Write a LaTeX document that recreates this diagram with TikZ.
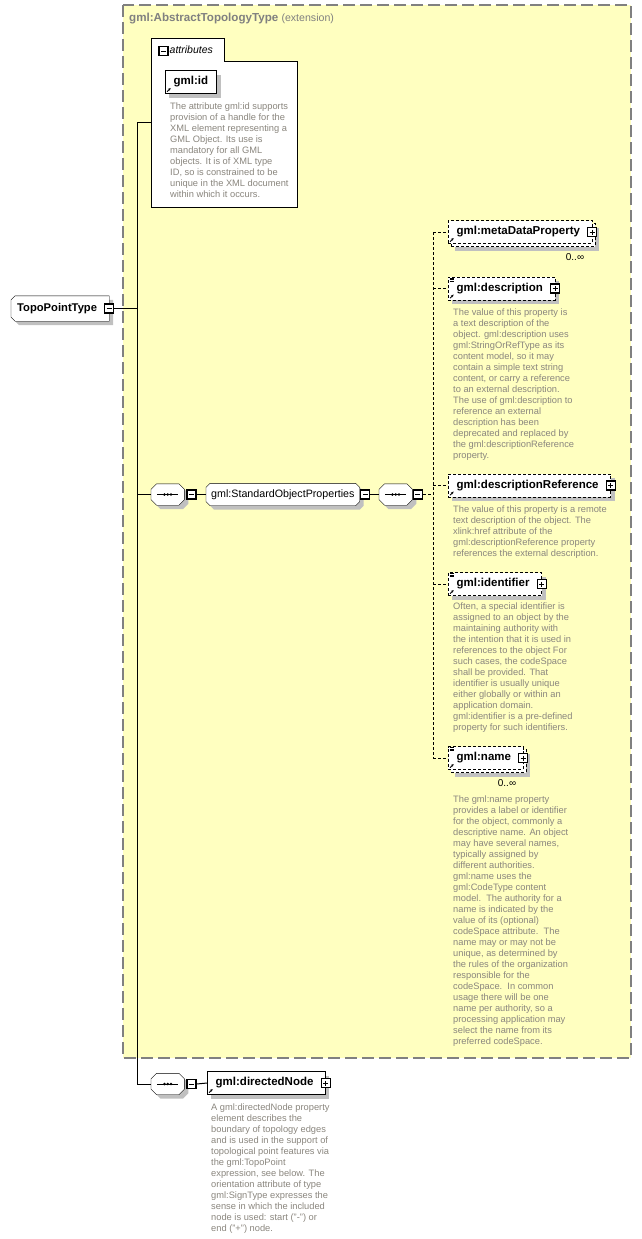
\documentclass[tikz,border=0pt]{standalone}
\usepackage{fontspec}
\setmainfont{Liberation Sans}
\usetikzlibrary{shadows,positioning,arrows.meta}

\definecolor{extfill}{RGB}{255,255,192}
\definecolor{extline}{RGB}{128,128,128}
\definecolor{descgray}{RGB}{138,134,126}
\definecolor{shadowgray}{RGB}{192,192,192}

\pgfdeclarelayer{frame}
\pgfdeclarelayer{outline}
\pgfsetlayers{frame,outline,main}

\tikzset{
  dropshade/.style={drop shadow={shadow xshift=4pt,shadow yshift=-4pt,fill=shadowgray,opacity=1}},
  elem/.style={draw,fill=white,minimum height=23pt,inner xsep=8.5pt,inner ysep=0pt,
    font=\fontsize{11.5}{13}\selectfont\bfseries},
  opt/.style={dash pattern=on 3pt off 2pt},
  plusroom/.style={execute at end node={\hspace*{3.5pt}}},
  pmbox/.style={draw,fill=white,minimum size=9pt,inner sep=0pt,line width=1.1pt},
  minus/.style={pmbox,path picture={
      \draw[line width=0.9pt] ([xshift=2pt]path picture bounding box.west) -- ([xshift=-2pt]path picture bounding box.east);}},
  plus/.style={pmbox,path picture={
      \draw[line width=0.9pt] ([xshift=2pt]path picture bounding box.west) -- ([xshift=-2pt]path picture bounding box.east);
      \draw[line width=0.9pt] ([yshift=-2pt]path picture bounding box.north) -- ([yshift=2pt]path picture bounding box.south);}},
  seq/.style={minimum width=33pt,minimum height=21pt,inner sep=0pt},
  group/.style={minimum height=22pt,inner xsep=5pt,inner ysep=0pt,font=\fontsize{10.7}{12}\selectfont},
  topo/.style={minimum height=25pt,inner xsep=6pt,inner ysep=0pt,font=\fontsize{11.2}{13}\selectfont\bfseries,
    execute at end node={\hspace*{6pt}}},
  desc/.style={anchor=north west,align=left,inner sep=0pt,text=descgray,
    font=\fontsize{9.3}{11}\selectfont},
  occurs/.style={font=\fontsize{10}{12}\selectfont,inner sep=0pt},
  conn/.style={line width=1pt},
  optconn/.style={line width=1pt,opt},
}

% outline with all four corners cut
\newcommand{\cutbox}[2]{%
  \begin{pgfonlayer}{outline}
  \draw[fill=white,dropshade] ([xshift=#2]#1.north west) -- ([xshift=-#2]#1.north east)
    -- ([yshift=-#2]#1.north east) -- ([yshift=#2]#1.south east)
    -- ([xshift=-#2]#1.south east) -- ([xshift=#2]#1.south west)
    -- ([yshift=#2]#1.south west) -- ([yshift=-#2]#1.north west) -- cycle;
  \end{pgfonlayer}}
% outline with the left corners cut
\newcommand{\leftcutbox}[2]{%
  \begin{pgfonlayer}{outline}
  \draw[fill=white,dropshade] ([xshift=#2]#1.north west) -- (#1.north east)
    -- (#1.south east) -- ([xshift=#2]#1.south west)
    -- ([yshift=#2]#1.south west) -- ([yshift=-#2]#1.north west) -- cycle;
  \end{pgfonlayer}}
% sequence sign
\newcommand{\seqsign}[1]{%
  \cutbox{#1}{5.5pt}
  \draw ([xshift=6pt]#1.west) -- ([xshift=-6pt]#1.east);
  \foreach \d in {-3.3,0,3.3} \fill ([xshift=\d pt]#1.center) circle (1.4pt);}
\newcommand{\refmark}[1]{%
  \draw[line width=0.8pt,-{Stealth[length=2.6pt,width=2.6pt]}] ([xshift=2pt,yshift=2pt]#1.south west) -- ++(3.6,-3.6);}
\newcommand{\simplemark}[1]{%
  \foreach \k in {1.2,2.7,4.2}
    \draw[line width=0.6pt] ([xshift=1.5pt,yshift=-\k pt]#1.north west) -- ++(4,0);}

\begin{document}
\begin{tikzpicture}[x=1pt,y=-1pt,line width=1pt]
\useasboundingbox (0,0) rectangle (641,1239);

% extension of gml:AbstractTopologyType
\begin{pgfonlayer}{frame}
\draw[extline,fill=extfill,line width=1.5pt,dash pattern=on 12pt off 5pt] (123,5) rectangle (631,1058);
\end{pgfonlayer}
\node[anchor=west,inner sep=0pt,text=extline,font=\fontsize{11.6}{13}\selectfont\bfseries] (exttitle) at (129,19)
  {gml:AbstractTopologyType {\mdseries\fontsize{10.6}{12}\selectfont(extension)}};

% attributes
\draw[fill=white] (151,38) -- (224,38) -- (224,61) -- (297,61) -- (297,207) -- (151,207) -- cycle;
\node[minus] (attrminus) at (163.5,51) {};
\node[anchor=west,inner sep=0pt,font=\fontsize{10.5}{12}\selectfont\itshape] (attrlabel) at (169.5,50) {attributes};
\coordinate (attrs) at (151,122);

\node[elem,dropshade,anchor=west] (gmlid) at (165,82) {gml:id};
\refmark{gmlid}
\node[desc] (gmliddesc) at (170,102.5) {The attribute gml:id supports\\provision of a handle for the\\XML element representing a\\GML Object. Its use is\\mandatory for all GML\\objects. It is of XML type\\ID, so is constrained to be\\unique in the XML document\\within which it occurs.};

% the type
\node[topo,anchor=west] (topo) at (11,308.5) {TopoPointType};
\leftcutbox{topo}{4pt}
\node[minus] (topominus) at (topo.east) {};

% sequence with the standard object properties
\node[seq,anchor=west] (seqa) at (151,494.5) {};
\seqsign{seqa}
\node[minus,right=2pt of seqa] (seqaminus) {};
\node[group,anchor=west] (sop) at (206,494.5) {gml:StandardObjectProperties};
\cutbox{sop}{4pt}
\node[minus,right=0.5pt of sop] (sopminus) {};
\node[seq,anchor=west] (seqb) at (379,494.5) {};
\seqsign{seqb}
\node[minus,right=0.5pt of seqb] (seqbminus) {};

% elements of the group
\node[elem,opt,dropshade,plusroom,anchor=west] (metaback) at (451,235) {\phantom{gml:metaDataProperty}};
\node[elem,opt,plusroom,anchor=west] (meta) at (448,232) {gml:metaDataProperty};
\node[plus] (metaplus) at (meta.east) {};
\refmark{meta}
\node[occurs] (metaoccurs) at (575,257) {0..∞};

\node[elem,opt,dropshade,plusroom,anchor=west] (descr) at (448,288.5) {gml:description};
\node[plus] (descrplus) at (descr.east) {};
\refmark{descr}
\simplemark{descr}
\node[desc] (descrdesc) at (453,308.5) {The value of this property is\\a text description of the\\object. gml:description uses\\gml:StringOrRefType as its\\content model, so it may\\contain a simple text string\\content, or carry a reference\\to an external description.\\The use of gml:description to\\reference an external\\description has been\\deprecated and replaced by\\the gml:descriptionReference\\property.};

\node[elem,opt,dropshade,plusroom,anchor=west] (descref) at (448,485.5) {gml:descriptionReference};
\node[plus] (descrefplus) at (descref.east) {};
\refmark{descref}
\node[desc] (descrefdesc) at (453,505.5) {The value of this property is a remote\\text description of the object. The\\xlink:href attribute of the\\gml:descriptionReference property\\references the external description.};

\node[elem,opt,dropshade,plusroom,anchor=west] (ident) at (448,584) {gml:identifier};
\node[plus] (identplus) at (ident.east) {};
\refmark{ident}
\simplemark{ident}
\node[desc] (identdesc) at (453,602.5) {Often, a special identifier is\\assigned to an object by the\\maintaining authority with\\the intention that it is used in\\references to the object For\\such cases, the codeSpace\\shall be provided. That\\identifier is usually unique\\either globally or within an\\application domain.\\gml:identifier is a pre-defined\\property for such identifiers.};

\node[elem,opt,dropshade,plusroom,anchor=west] (nameback) at (451,761) {\phantom{gml:name}};
\node[elem,opt,plusroom,anchor=west] (name) at (448,758) {gml:name};
\node[plus] (nameplus) at (name.east) {};
\refmark{name}
\simplemark{name}
\node[occurs] (nameoccurs) at (507,783) {0..∞};
\node[desc] (namedesc) at (453,795.5) {The gml:name property\\provides a label or identifier\\for the object, commonly a\\descriptive name. An object\\may have several names,\\typically assigned by\\different authorities.\\gml:name uses the\\gml:CodeType content\\model.\ \ The authority for a\\name is indicated by the\\value of its (optional)\\codeSpace attribute.\ \ The\\name may or may not be\\unique, as determined by\\the rules of the organization\\responsible for the\\codeSpace.\ \ In common\\usage there will be one\\name per authority, so a\\processing application may\\select the name from its\\preferred codeSpace.};

% directed node
\node[seq,anchor=west] (seqc) at (151,1084) {};
\seqsign{seqc}
\node[minus,right=2pt of seqc] (seqcminus) {};
\node[elem,dropshade,plusroom,anchor=west] (dirnode) at (207,1083) {gml:directedNode};
\node[plus] (dirnodeplus) at (dirnode.east) {};
\refmark{dirnode}
\node[desc] (dirnodedesc) at (211,1103.5) {A gml:directedNode property\\element describes the\\boundary of topology edges\\and is used in the support of\\topological point features via\\the gml:TopoPoint\\expression, see below. The\\orientation attribute of type\\gml:SignType expresses the\\sense in which the included\\node is used: start ("-") or\\end ("+") node.};

% connectors
\coordinate (trunktop) at (137,122);
\coordinate (trunkbot) at (137,1084);
\coordinate (fork) at (433,232);
\draw[conn] (trunktop) -- (trunkbot);
\draw[conn] (trunktop) -- (attrs);
\draw[conn] (topominus.east) -- (topominus -| trunktop);
\draw[conn] (seqa.west -| trunktop) -- (seqa.west);
\draw[conn] (trunkbot) -- (seqc.west);
\draw[conn] (seqaminus.east) -- (sop.west);
\draw[conn] (sopminus.east) -- (seqb.west);
\draw[conn] (seqcminus.east) -- (dirnode.west);
\draw[optconn] (seqbminus.east) -- (seqbminus -| fork);
\draw[optconn] (meta.west -| fork) -- (name.west -| fork);
\foreach \el in {meta,descr,descref,ident,name}
  \draw[optconn] (\el.west -| fork) -- (\el.west);

\end{tikzpicture}
\end{document}
